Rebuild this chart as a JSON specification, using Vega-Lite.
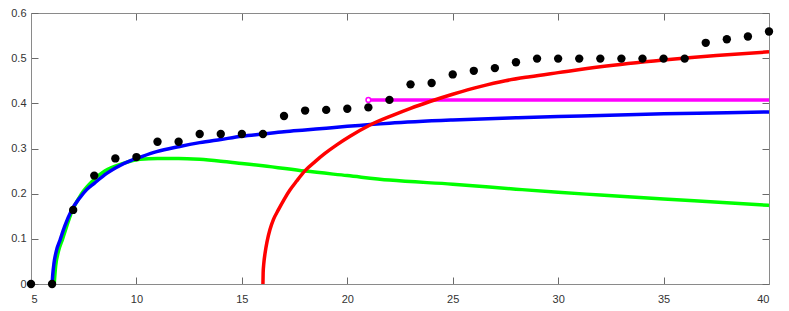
{
  "$schema": "https://vega.github.io/schema/vega-lite/v6.json",
  "width": 738,
  "height": 271,
  "autosize": "none",
  "padding": {"left": 31, "top": 13, "right": 20, "bottom": 27},
  "background": "white",
  "view": {"stroke": null},
  "config": {
    "axis": {
      "domainColor": "#8a8a8a",
      "tickColor": "#6a6a6a",
      "tickSize": -7,
      "grid": false,
      "labelFont": "Liberation Sans",
      "labelFontSize": 11,
      "labelColor": "#333333",
      "title": null
    }
  },
  "datasets": {
    "green": [
      {"x": 6.1, "y": 0}, {"x": 6.17, "y": 0.04}, {"x": 6.3, "y": 0.072}, {"x": 6.5, "y": 0.1},
      {"x": 6.97, "y": 0.164}, {"x": 7.4, "y": 0.2}, {"x": 7.96, "y": 0.23}, {"x": 8.5, "y": 0.25},
      {"x": 9.38, "y": 0.267}, {"x": 10.17, "y": 0.276}, {"x": 11, "y": 0.278}, {"x": 12, "y": 0.278},
      {"x": 13, "y": 0.276}, {"x": 14, "y": 0.272}, {"x": 15, "y": 0.267}, {"x": 16, "y": 0.262},
      {"x": 18, "y": 0.25}, {"x": 20, "y": 0.24}, {"x": 22, "y": 0.23}, {"x": 25, "y": 0.221},
      {"x": 28, "y": 0.21}, {"x": 30, "y": 0.203}, {"x": 32, "y": 0.197}, {"x": 35, "y": 0.188},
      {"x": 38, "y": 0.18}, {"x": 40, "y": 0.174}
    ],
    "blue": [
      {"x": 6.0, "y": 0}, {"x": 6.03, "y": 0.02}, {"x": 6.09, "y": 0.046}, {"x": 6.2, "y": 0.073},
      {"x": 6.375, "y": 0.097}, {"x": 6.6, "y": 0.128}, {"x": 6.93, "y": 0.164}, {"x": 7.3, "y": 0.19},
      {"x": 7.64, "y": 0.209}, {"x": 8.0, "y": 0.223}, {"x": 8.59, "y": 0.245}, {"x": 9.0, "y": 0.257},
      {"x": 9.78, "y": 0.2745}, {"x": 10.0, "y": 0.278}, {"x": 10.96, "y": 0.293}, {"x": 12, "y": 0.304},
      {"x": 13, "y": 0.313}, {"x": 14, "y": 0.32}, {"x": 15, "y": 0.327}, {"x": 16, "y": 0.332},
      {"x": 17, "y": 0.337}, {"x": 18, "y": 0.341}, {"x": 19, "y": 0.345}, {"x": 20, "y": 0.349},
      {"x": 22, "y": 0.356}, {"x": 25, "y": 0.363}, {"x": 28, "y": 0.368}, {"x": 30, "y": 0.371},
      {"x": 32, "y": 0.373}, {"x": 35, "y": 0.377}, {"x": 38, "y": 0.379}, {"x": 40, "y": 0.381}
    ],
    "magenta": [
      {"x": 21, "y": 0.4076}, {"x": 40, "y": 0.4076}
    ],
    "red": [
      {"x": 16.0, "y": 0}, {"x": 16.01, "y": 0.025}, {"x": 16.04, "y": 0.045}, {"x": 16.1, "y": 0.068},
      {"x": 16.2, "y": 0.095}, {"x": 16.33, "y": 0.12}, {"x": 16.5, "y": 0.143}, {"x": 16.73, "y": 0.164},
      {"x": 17.0, "y": 0.187}, {"x": 17.28, "y": 0.208}, {"x": 17.6, "y": 0.228}, {"x": 18.0, "y": 0.251},
      {"x": 18.5, "y": 0.272}, {"x": 18.94, "y": 0.289}, {"x": 19.5, "y": 0.308}, {"x": 20.13, "y": 0.327},
      {"x": 21.08, "y": 0.352}, {"x": 22.18, "y": 0.374}, {"x": 23, "y": 0.389}, {"x": 23.92, "y": 0.404},
      {"x": 25, "y": 0.42}, {"x": 26.29, "y": 0.437}, {"x": 27.5, "y": 0.45}, {"x": 28.66, "y": 0.459},
      {"x": 30, "y": 0.468}, {"x": 32, "y": 0.481}, {"x": 35, "y": 0.496}, {"x": 37.5, "y": 0.506},
      {"x": 40, "y": 0.514}
    ],
    "dots": [
      {"x": 5, "y": 0}, {"x": 6, "y": 0}, {"x": 7, "y": 0.164}, {"x": 8, "y": 0.24},
      {"x": 9, "y": 0.278}, {"x": 10, "y": 0.281}, {"x": 11, "y": 0.315}, {"x": 12, "y": 0.315},
      {"x": 13, "y": 0.332}, {"x": 14, "y": 0.332}, {"x": 15, "y": 0.332}, {"x": 16, "y": 0.332},
      {"x": 17, "y": 0.372}, {"x": 18, "y": 0.384}, {"x": 19, "y": 0.3855}, {"x": 20, "y": 0.388},
      {"x": 21, "y": 0.391}, {"x": 22, "y": 0.4076}, {"x": 23, "y": 0.442}, {"x": 24, "y": 0.445},
      {"x": 25, "y": 0.464}, {"x": 26, "y": 0.472}, {"x": 27, "y": 0.478}, {"x": 28, "y": 0.491},
      {"x": 29, "y": 0.499}, {"x": 30, "y": 0.499}, {"x": 31, "y": 0.499}, {"x": 32, "y": 0.499},
      {"x": 33, "y": 0.499}, {"x": 34, "y": 0.499}, {"x": 35, "y": 0.499}, {"x": 36, "y": 0.499},
      {"x": 37, "y": 0.534}, {"x": 38, "y": 0.542}, {"x": 39, "y": 0.548}, {"x": 40, "y": 0.559}
    ]
  },
  "resolve": {"axis": {"x": "independent", "y": "independent"}},
  "layer": [
    {
      "data": {"name": "green"},
      "mark": {"type": "line", "color": "#00ff00", "strokeWidth": 3.5, "interpolate": "monotone"},
      "encoding": {
        "x": {"field": "x", "type": "quantitative", "scale": {"domain": [5, 40], "nice": false},
              "axis": {"orient": "bottom", "values": [5, 10, 15, 20, 25, 30, 35, 40], "labelPadding": 16}},
        "y": {"field": "y", "type": "quantitative", "scale": {"domain": [0, 0.6], "nice": false},
              "axis": {"orient": "left", "values": [0, 0.1, 0.2, 0.3, 0.4, 0.5, 0.6], "format": ".1~f", "labelPadding": 12}}
      }
    },
    {
      "data": {"name": "blue"},
      "mark": {"type": "line", "color": "#0000ff", "strokeWidth": 3.5, "interpolate": "monotone"},
      "encoding": {
        "x": {"field": "x", "type": "quantitative",
              "axis": {"orient": "top", "values": [5, 10, 15, 20, 25, 30, 35, 40], "labels": false}},
        "y": {"field": "y", "type": "quantitative",
              "axis": {"orient": "right", "values": [0, 0.1, 0.2, 0.3, 0.4, 0.5, 0.6], "labels": false}}
      }
    },
    {
      "data": {"name": "magenta"},
      "mark": {"type": "line", "color": "#ff00ff", "strokeWidth": 3.5},
      "encoding": {
        "x": {"field": "x", "type": "quantitative", "axis": null},
        "y": {"field": "y", "type": "quantitative", "axis": null}
      }
    },
    {
      "data": {"name": "red"},
      "mark": {"type": "line", "color": "#ff0000", "strokeWidth": 3.5, "interpolate": "monotone"},
      "encoding": {
        "x": {"field": "x", "type": "quantitative", "axis": null},
        "y": {"field": "y", "type": "quantitative", "axis": null}
      }
    },
    {
      "data": {"values": [{"x": 21, "y": 0.4076}]},
      "mark": {"type": "point", "shape": "circle", "filled": false, "fill": "white", "stroke": "#ff00ff", "strokeWidth": 1.5, "size": 22, "opacity": 1},
      "encoding": {
        "x": {"field": "x", "type": "quantitative", "axis": null},
        "y": {"field": "y", "type": "quantitative", "axis": null}
      }
    },
    {
      "data": {"name": "dots"},
      "mark": {"type": "circle", "color": "black", "size": 70, "opacity": 1},
      "encoding": {
        "x": {"field": "x", "type": "quantitative", "axis": null},
        "y": {"field": "y", "type": "quantitative", "axis": null}
      }
    }
  ]
}
